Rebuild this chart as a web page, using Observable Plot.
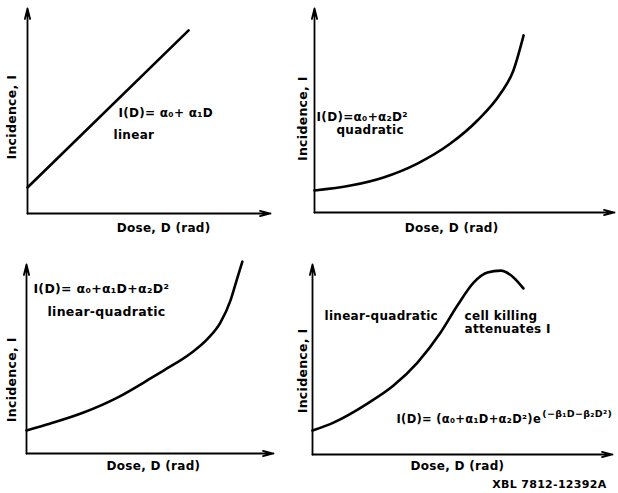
<!DOCTYPE html>
<html><head><meta charset="utf-8">
<script src="https://cdn.jsdelivr.net/npm/d3@7"></script>
<script src="https://cdn.jsdelivr.net/npm/@observablehq/plot@0.6"></script>
<style>
body{margin:0;background:#fff;}
#wrap{position:relative;width:618px;height:493px;background:#fff;}
#wrap > svg{position:absolute;overflow:visible;}
#wrap text{letter-spacing:0.3px;}
</style></head><body><div id="wrap"></div>
<script>
// ---- data (dose and incidence in relative units, 0-100) ----
const linearDose = [0, 66.3];
const linearInc  = [12.7, 89.3];
const quadDose = [0, 12, 23, 34.3, 45.3, 54.3, 62, 66.3, 69.7];
const quadInc  = [10.8, 13.2, 17.2, 24, 33.8, 45.1, 58.3, 69.6, 86.8];
const lqDose = [0, 9.7, 23.1, 36.8, 50.2, 55.5, 66.4, 73.3, 78.5, 82.6, 85.4, 87.4];
const lqInc  = [12.2, 15.9, 21.7, 29.6, 39.7, 43.9, 52.9, 60.6, 69.2, 81, 93.1, 101.5];
const killDose = [0, 7, 18.3, 27, 35, 42.7, 48.3, 53.7, 58.3, 62.7, 67, 70.3];
const killInc  = [12.6, 16.8, 26.8, 36.3, 48.4, 64.2, 78.4, 90.5, 95.8, 96.8, 93.2, 87.4];

const yLabel = "Incidence, I";
const xLabel = "Dose, D (rad)";
const sourceNote = "XBL 7812-12392A";

// ---- layout (not data) ----
const FONT = "DejaVu Sans";
const panels = [
  {left:0, top:0, w:309, h:246, xr:[27,270], yr:[213,8], dose:linearDose, inc:linearInc,
   yl:[-6.2,47], xl:[56,-7.3],
   notes:[{t:"I(D)= α₀+ α₁D", x:37.4, y:48.8, s:12},{t:"linear", x:35.4, y:38, s:12}]},
  {left:309, top:0, w:309, h:246, xr:[5,305], yr:[212,8], dose:quadDose, inc:quadInc,
   yl:[-4,46], xl:[45.7,-7.8],
   notes:[{t:"I(D)=α₀+α₂D²", x:0.7, y:46.6, s:12},{t:"quadratic", x:7.3, y:40.2, s:12}]},
  {left:0, top:246, w:309, h:247, xr:[26,273], yr:[207,18], dose:lqDose, inc:lqInc,
   yl:[-5.7,39], xl:[51.4,-6.9],
   notes:[{t:"I(D)= α₀+α₁D+α₂D²", x:2.8, y:87.3, s:12.5},{t:"linear-quadratic", x:8.5, y:75, s:12.5}]},
  {left:309, top:246, w:309, h:247, xr:[3,303], yr:[208,18], dose:killDose, inc:killInc,
   yl:[-3.3,44], xl:[48.3,-6.3],
   notes:[{t:"linear-quadratic", x:4, y:72.6, s:12},{t:"cell killing", x:50.7, y:72.6, s:12},
          {t:"attenuates I", x:50.7, y:65.8, s:12},
          {t:"I(D)= (α₀+α₁D+α₂D²)e", x:28, y:18.4, s:11.5},
          {t:"(−β₁D−β₂D²)", x:76.6, y:21.6, s:9.5}],
   extra:{t:sourceNote, x:98, y:-16}}
];

const wrap = document.getElementById("wrap");
for (const p of panels) {
  const pts = p.dose.map((d,i)=>({dose:d, inc:p.inc[i]}));
  const marks = [
    Plot.arrow([{x1:0,y1:0,x2:0,y2:100}], {x1:"x1",y1:"y1",x2:"x2",y2:"y2", stroke:"black", strokeWidth:1.8, headAngle:28, headLength:9}),
    Plot.arrow([{x1:0,y1:0,x2:100,y2:0}], {x1:"x1",y1:"y1",x2:"x2",y2:"y2", stroke:"black", strokeWidth:1.8, headAngle:28, headLength:9}),
    Plot.line(pts, {x:"dose", y:"inc", curve:"monotone-x", stroke:"black", strokeWidth:2.6}),
    Plot.text([yLabel], {x:p.yl[0], y:p.yl[1], text:d=>d, rotate:-90, fontSize:12.5, fontWeight:"bold"}),
    Plot.text([xLabel], {x:p.xl[0], y:p.xl[1], text:d=>d, fontSize:12, fontWeight:"bold"}),
    Plot.text(p.notes, {x:"x", y:"y", text:"t", fontSize:d=>d.s, textAnchor:"start", fontWeight:"bold"})
  ];
  if (p.extra) marks.push(Plot.text([p.extra], {x:"x", y:"y", text:"t", textAnchor:"end", fontSize:11, fontWeight:"bold"}));
  const svg = Plot.plot({
    width:p.w, height:p.h,
    x:{domain:[0,100], range:p.xr, axis:null},
    y:{domain:[0,100], range:p.yr, axis:null},
    style:{fontFamily:FONT, background:"transparent", color:"black", overflow:"visible"},
    marks
  });
  svg.style.left = p.left + "px";
  svg.style.top = p.top + "px";
  wrap.appendChild(svg);
}
</script></body></html>
